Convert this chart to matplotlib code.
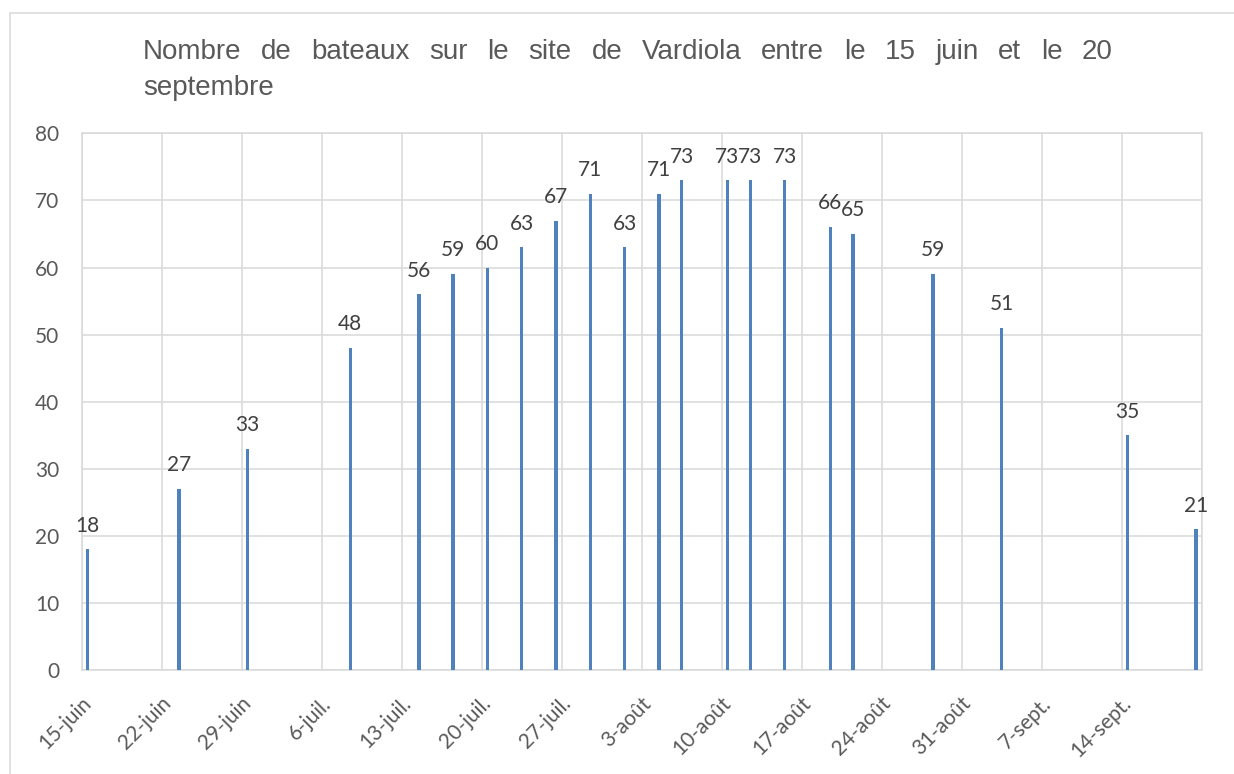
import numpy as np
import matplotlib
matplotlib.use("Agg")
import matplotlib.pyplot as plt
from matplotlib.patches import Rectangle
from matplotlib.transforms import ScaledTranslation
from matplotlib import font_manager

# ---------------- data ----------------
title_line1 = "Nombre de bateaux sur le site de Vardiola entre le 15 juin et le 20"
title_line2 = "septembre"

dates = ["2021-06-15", "2021-06-23", "2021-06-29", "2021-07-08", "2021-07-14",
         "2021-07-17", "2021-07-20", "2021-07-23", "2021-07-26", "2021-07-29",
         "2021-08-01", "2021-08-04", "2021-08-06", "2021-08-10", "2021-08-12",
         "2021-08-15", "2021-08-19", "2021-08-21", "2021-08-28", "2021-09-03",
         "2021-09-14", "2021-09-20"]
boats = [18, 27, 33, 48, 56, 59, 60, 63, 67, 71, 63, 71, 73, 73, 73, 73, 66, 65,
         59, 51, 35, 21]

axis_start = "2021-06-15"
axis_end = "2021-09-21"
tick_labels = ["15-juin", "22-juin", "29-juin", "6-juil.", "13-juil.", "20-juil.",
               "27-juil.", "3-août", "10-août", "17-août", "24-août", "31-août",
               "7-sept.", "14-sept."]
y_ticks = [0, 10, 20, 30, 40, 50, 60, 70, 80]

# ---------------- helpers ----------------
installed = {f.name for f in font_manager.fontManager.ttflist}
title_family = ["Liberation Sans Narrow", "Liberation Sans", "DejaVu Sans"]
title_family = [f for f in title_family if f in installed] or ["DejaVu Sans"]
body_family = ["Lato", "DejaVu Sans"]

d0 = np.datetime64(axis_start)
x_days = (np.array(dates, dtype="datetime64[D]") - d0).astype(int)
x_end = int((np.datetime64(axis_end) - d0).astype(int))
grid_x = np.arange(0, x_end + 1, 7)

W, H = 1234, 774
fig = plt.figure(figsize=(W / 100, H / 100), dpi=100)
ax = fig.add_axes([81.7 / W, (H - 670.3) / H, 1120 / W, 537 / H])

grid_col = "#d9d9d9"
bar_col = "#4F81BD"
fs = 15

ax.bar(x_days + 0.5, boats, width=0.3, color=bar_col, zorder=3)

ax.set_xlim(0, x_end)
ax.set_ylim(0, 80)
ax.set_xticks(grid_x)
ax.set_xticklabels([])
ax.set_yticks(y_ticks)
ax.set_axisbelow(True)
ax.grid(True, color=grid_col, lw=1.1)
for s in ax.spines.values():
    s.set_color(grid_col)
    s.set_linewidth(1.1)
ax.tick_params(axis="both", length=0)
ax.tick_params(axis="y", pad=16, labelsize=fs, labelcolor="#595959")
for lab in ax.get_yticklabels():
    lab.set_family(body_family)

# rotated x labels
off = ScaledTranslation(6 / 100, -30 / 100, fig.dpi_scale_trans)
for gx, lab in zip(grid_x, tick_labels):
    ax.text(gx, 0, lab, transform=ax.get_xaxis_transform() + off,
            rotation=45, rotation_mode="anchor", ha="right", va="center",
            fontsize=fs, color="#595959", family=body_family, clip_on=False)

# data labels
for x, v in zip(x_days, boats):
    ax.annotate(str(v), (x + 0.5, v), xytext=(0, 12.8), textcoords="offset points",
                ha="center", va="baseline", fontsize=fs, color="#404040",
                family=body_family, annotation_clip=False)

# outer border of the chart area
fig.add_artist(Rectangle((10 / W, -0.5), 2, (1 - 13 / H) + 0.5,
                         transform=fig.transFigure, fill=False,
                         edgecolor=grid_col, lw=1.1))

# justified title
tsize = 20
tcol = "#595959"
renderer = fig.canvas.get_renderer()
words = title_line1.split()
texts = [fig.text(0, 0, w, fontsize=tsize, family=title_family, color=tcol,
                  va="baseline", ha="left") for w in words]
widths = [t.get_window_extent(renderer).width for t in texts]
x_left, x_right = 143, 1113
gap = (x_right - x_left - sum(widths)) / (len(words) - 1)
xp = x_left
for t, w in zip(texts, widths):
    t.set_position((xp / W, 1 - 59 / H))
    xp += w + gap
fig.text(x_left / W, 1 - 95 / H, title_line2, fontsize=tsize, family=title_family,
         color=tcol, va="baseline", ha="left")

fig.savefig("out.png", dpi=100)
